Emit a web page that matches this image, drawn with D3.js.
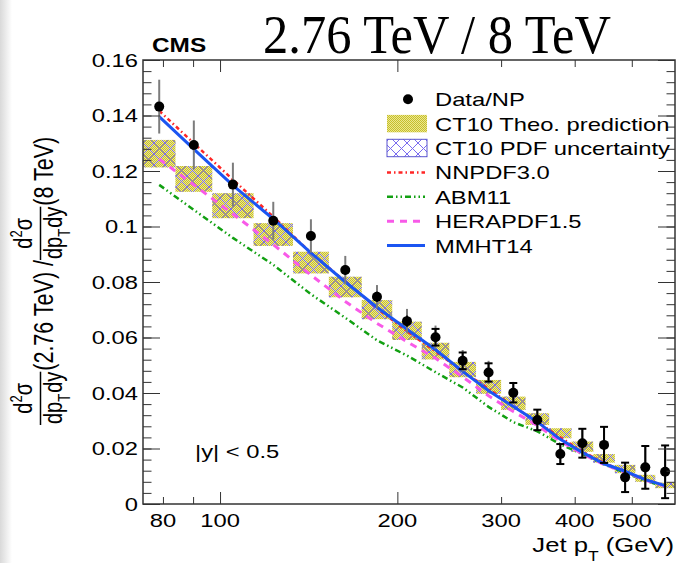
<!DOCTYPE html>
<html>
<head>
<meta charset="utf-8">
<script src="https://cdn.jsdelivr.net/npm/d3@7"></script>
<style>
body { margin: 0; background: #fff; }
svg { display: block; }
</style>
</head>
<body>
<svg id="chart" width="677" height="563"></svg>
<script>
// jet pT bins (GeV)
var binEdges = [74, 84, 97, 114, 133, 153, 174, 196, 220, 245, 272, 300, 330, 362, 395, 430, 468, 507, 548, 592];

// data / NP ratio, total and stat errors
var dataVal = [0.1432, 0.1294, 0.1151, 0.1021, 0.0966, 0.0843, 0.0747, 0.0659, 0.0601, 0.0516, 0.0474, 0.0401, 0.0303, 0.0180, 0.0219, 0.0213, 0.0096, 0.0132, 0.0116];
var errTot = [0.0097, 0.0088, 0.0079, 0.0068, 0.0060, 0.0051, 0.0042, 0.0044, 0.0042, 0.0039, 0.0042, 0.0039, 0.0039, 0.0037, 0.0054, 0.0067, 0.0054, 0.0079, 0.0097];
var errStat = [0.0008, 0.0009, 0.0010, 0.0012, 0.0014, 0.0016, 0.0018, 0.0020, 0.0030, 0.0030, 0.0033, 0.0035, 0.0037, 0.0036, 0.0052, 0.0065, 0.0053, 0.0077, 0.0095];

// CT10 band
var ct10Hi = [0.1312, 0.1218, 0.1120, 0.1012, 0.0909, 0.0819, 0.0735, 0.0657, 0.0581, 0.0512, 0.0447, 0.0387, 0.0327, 0.0273, 0.0225, 0.0180, 0.0141, 0.0105, 0.0077];
var ct10Lo = [0.1213, 0.1125, 0.1030, 0.0930, 0.0831, 0.0745, 0.0666, 0.0591, 0.0521, 0.0457, 0.0397, 0.0339, 0.0285, 0.0237, 0.0188, 0.0149, 0.0111, 0.0080, 0.0057];

// other PDF sets
var nnpdf = [0.1417, 0.1300, 0.1169, 0.1035, 0.0905, 0.0802, 0.0706, 0.0622, 0.0550, 0.0478, 0.0415, 0.0352, 0.0295, 0.0240, 0.0190, 0.0148, 0.0116, 0.0088, 0.0066];
var abm11 = [0.1150, 0.1060, 0.0959, 0.0862, 0.0756, 0.0671, 0.0590, 0.0535, 0.0475, 0.0420, 0.0350, 0.0295, 0.0262, 0.0215, 0.0180, 0.0143, 0.0112, 0.0084, 0.0062];
var hera = [0.1243, 0.1150, 0.1045, 0.0935, 0.0825, 0.0730, 0.0651, 0.0585, 0.0525, 0.0458, 0.0390, 0.0333, 0.0283, 0.0226, 0.0181, 0.0142, 0.0115, 0.0086, 0.0064];
var mmht = [0.1396, 0.1279, 0.1148, 0.1027, 0.0905, 0.0800, 0.0709, 0.0630, 0.0556, 0.0478, 0.0408, 0.0351, 0.0296, 0.0233, 0.0186, 0.0145, 0.0118, 0.0088, 0.0066];

// ticks
var yTicks = [0, 0.02, 0.04, 0.06, 0.08, 0.1, 0.12, 0.14, 0.16];
var yTickLabels = ["0", "0.02", "0.04", "0.06", "0.08", "0.1", "0.12", "0.14", "0.16"];
var xTickLabels = [80, 100, 200, 300, 400, 500];
var xTicksLong = [100, 200];
var xTicksShort = [80, 90, 300, 400, 500];

var legendItems = ["Data/NP", "CT10 Theo. prediction", "CT10 PDF uncertainty", "NNPDF3.0", "ABM11", "HERAPDF1.5", "MMHT14"];

var FONT = "'Liberation Sans', Arial, Helvetica, sans-serif";
var SX = 1.25; // canvas was stretched sideways

var svg = d3.select("#chart");
var L = 143, R = 675, T = 60, B = 504;

var x = d3.scaleLog().domain([binEdges[0], binEdges[binEdges.length - 1]]).range([L, R]);
var y = d3.scaleLinear().domain([0, 0.16]).range([B, T]);

var bins = dataVal.map(function (v, i) {
	var lo = binEdges[i], hi = binEdges[i + 1];
	return { lo: lo, hi: hi, c: Math.sqrt(lo * hi), v: v, et: errTot[i], es: errStat[i], blo: ct10Lo[i], bhi: ct10Hi[i] };
});

// ---------- defs ----------
var defs = svg.append("defs");

var edge = defs.append("linearGradient").attr("id", "edge").attr("x1", 0).attr("x2", 1).attr("y1", 0).attr("y2", 0);
edge.append("stop").attr("offset", "0%").attr("stop-color", "#d9d9d9");
edge.append("stop").attr("offset", "100%").attr("stop-color", "#ffffff");

var dots = defs.append("pattern").attr("id", "dots").attr("patternUnits", "userSpaceOnUse")
	.attr("width", 2).attr("height", 2);
dots.append("rect").attr("width", 2).attr("height", 2).attr("fill", "#ece88e");
dots.append("rect").attr("width", 1).attr("height", 1).attr("fill", "#c6be2e");
dots.append("rect").attr("x", 1).attr("y", 1).attr("width", 1).attr("height", 1).attr("fill", "#c6be2e");

var hatch = defs.append("pattern").attr("id", "hatch").attr("patternUnits", "userSpaceOnUse")
	.attr("width", 11).attr("height", 11);
hatch.append("path").attr("d", "M0,0L11,11M11,0L0,11")
	.attr("stroke", "#7a6cf0").attr("stroke-width", 1).attr("fill", "none");

defs.append("clipPath").attr("id", "frame")
	.append("rect").attr("x", L).attr("y", T).attr("width", R - L).attr("height", B - T);

// ---------- background ----------
svg.append("rect").attr("width", 677).attr("height", 563).attr("fill", "#fff");
svg.append("rect").attr("width", 12).attr("height", 563).attr("fill", "url(#edge)");

// helper for the sideways-stretched ROOT text
function stext(parent, px, py, str, size, anchor, weight) {
	return parent.append("g")
		.attr("transform", "translate(" + px + "," + py + ") scale(" + SX + ",1)")
		.append("text")
		.attr("text-anchor", anchor || "start")
		.style("font-family", FONT)
		.style("font-size", size + "px")
		.style("font-weight", weight || "normal")
		.attr("fill", "#000")
		.text(str);
}

var plot = svg.append("g").attr("clip-path", "url(#frame)");

// CT10 theory band and PDF uncertainty
plot.selectAll("rect.theo").data(bins).enter().append("rect")
	.attr("class", "theo")
	.attr("x", function (d) { return x(d.lo); })
	.attr("width", function (d) { return x(d.hi) - x(d.lo); })
	.attr("y", function (d) { return y(d.bhi); })
	.attr("height", function (d) { return y(d.blo) - y(d.bhi); })
	.attr("fill", "url(#dots)");

plot.selectAll("rect.pdf").data(bins).enter().append("rect")
	.attr("class", "pdf")
	.attr("x", function (d) { return x(d.lo); })
	.attr("width", function (d) { return x(d.hi) - x(d.lo); })
	.attr("y", function (d) { return y(d.bhi); })
	.attr("height", function (d) { return y(d.blo) - y(d.bhi); })
	.attr("fill", "url(#hatch)");

// theory curves
var line = d3.line()
	.x(function (d) { return x(d.c); })
	.y(function (d) { return y(d.v); });

var curves = [
	{ vals: nnpdf, color: "#ff2626", dash: "4,3,1.5,3", w: 2.5 },
	{ vals: abm11, color: "#12a012", dash: "6,3,1.5,3,1.5,3", w: 2.5 },
	{ vals: hera, color: "#f85ae8", dash: "7,6", w: 3 },
	{ vals: mmht, color: "#1b55f2", dash: null, w: 3 }
];

curves.forEach(function (cv) {
	plot.append("path")
		.datum(bins.map(function (b, i) { return { c: b.c, v: cv.vals[i] }; }))
		.attr("d", line)
		.attr("fill", "none")
		.attr("stroke", cv.color)
		.attr("stroke-width", cv.w)
		.attr("stroke-dasharray", cv.dash);
});

// data points
var pts = plot.selectAll("g.pt").data(bins).enter().append("g").attr("class", "pt");

pts.append("line")
	.attr("x1", function (d) { return x(d.c); })
	.attr("x2", function (d) { return x(d.c); })
	.attr("y1", function (d) { return y(d.v + d.et); })
	.attr("y2", function (d) { return y(d.v - d.et); })
	.attr("stroke", "#7c7c7c").attr("stroke-width", 2);

pts.append("line")
	.attr("x1", function (d) { return x(d.c); })
	.attr("x2", function (d) { return x(d.c); })
	.attr("y1", function (d) { return y(d.v + d.es); })
	.attr("y2", function (d) { return y(d.v - d.es); })
	.attr("stroke", "#000").attr("stroke-width", 2);

// caps only where the stat bar sticks out of the marker
pts.filter(function (d) { return y(d.v) - y(d.v + d.es) > 6; })
	.each(function (d) {
		var g = d3.select(this), cx = x(d.c);
		[d.v + d.es, d.v - d.es].forEach(function (e) {
			g.append("line")
				.attr("x1", cx - 4).attr("x2", cx + 4)
				.attr("y1", y(e)).attr("y2", y(e))
				.attr("stroke", "#000").attr("stroke-width", 2);
		});
	});

pts.append("circle")
	.attr("cx", function (d) { return x(d.c); })
	.attr("cy", function (d) { return y(d.v); })
	.attr("r", 5)
	.attr("fill", "#000");

// ---------- axes ----------
var yMinor = d3.range(0, 0.1601, 0.004);
function noDomain(g) { g.select(".domain").remove(); g.selectAll("line").attr("stroke", "#333"); }

svg.append("g").attr("transform", "translate(" + L + ",0)")
	.call(d3.axisLeft(y).tickValues(yMinor).tickSize(-8.5).tickFormat("")).call(noDomain);
svg.append("g").attr("transform", "translate(" + L + ",0)")
	.call(d3.axisLeft(y).tickValues(yTicks).tickSize(-17).tickFormat("")).call(noDomain);
svg.append("g").attr("transform", "translate(" + R + ",0)")
	.call(d3.axisRight(y).tickValues(yMinor).tickSize(-8.5).tickFormat("")).call(noDomain);
svg.append("g").attr("transform", "translate(" + R + ",0)")
	.call(d3.axisRight(y).tickValues(yTicks).tickSize(-17).tickFormat("")).call(noDomain);

svg.append("g").attr("transform", "translate(0," + B + ")")
	.call(d3.axisBottom(x).tickValues(xTicksLong).tickSize(-12).tickFormat("")).call(noDomain);
svg.append("g").attr("transform", "translate(0," + B + ")")
	.call(d3.axisBottom(x).tickValues(xTicksShort).tickSize(-7).tickFormat("")).call(noDomain);
svg.append("g").attr("transform", "translate(0," + T + ")")
	.call(d3.axisTop(x).tickValues(xTicksLong).tickSize(-12).tickFormat("")).call(noDomain);
svg.append("g").attr("transform", "translate(0," + T + ")")
	.call(d3.axisTop(x).tickValues(xTicksShort).tickSize(-7).tickFormat("")).call(noDomain);

svg.append("rect")
	.attr("x", L).attr("y", T).attr("width", R - L).attr("height", B - T)
	.attr("fill", "none").attr("stroke", "#333").attr("stroke-width", 1.5);

yTicks.forEach(function (v, i) {
	stext(svg, 138, y(v) + 6.7, yTickLabels[i], 19, "end");
});
xTickLabels.forEach(function (v) {
	stext(svg, x(v), 526.5, String(v), 19, "middle");
});

// x title
var xt = stext(svg, 674, 552, "Jet p", 20.5, "end");
xt.append("tspan").attr("dy", 9).style("font-size", "14px").text("T");
xt.append("tspan").attr("dy", -9).text(" (GeV)");

// y title, built from pieces along the rotated baseline
var yl = svg.append("g").attr("transform", "translate(53,425) scale(" + SX + ",1) rotate(-90)")
	.style("font-family", FONT).attr("fill", "#000");
var cur = 0;

function addFrac() {
	var num = yl.append("text").attr("y", -16.5).style("font-size", "20px");
	num.append("tspan").text("d");
	num.append("tspan").attr("dy", -8).style("font-size", "13px").text("2");
	num.append("tspan").attr("dy", 8).text("σ");
	var den = yl.append("text").attr("y", 7.5).style("font-size", "20px");
	den.append("tspan").text("dp");
	den.append("tspan").attr("dy", 6).style("font-size", "13px").text("T");
	den.append("tspan").attr("dy", -6).attr("dx", 1).text("dy");
	var nw = num.node().getComputedTextLength();
	var dw = den.node().getComputedTextLength();
	var fw = Math.max(nw, dw) + 2;
	num.attr("x", cur + (fw - nw) / 2);
	den.attr("x", cur + (fw - dw) / 2);
	yl.append("line").attr("x1", cur).attr("x2", cur + fw).attr("y1", -10).attr("y2", -10)
		.attr("stroke", "#000").attr("stroke-width", 1.2);
	cur += fw + 1;
}
function addText(str) {
	var t = yl.append("text").attr("x", cur).attr("y", 0).style("font-size", "21.5px").text(str);
	cur += t.node().getComputedTextLength();
}
addFrac();
addText("(2.76 TeV) / ");
addFrac();
addText("(8 TeV)");

// labels on the pad
stext(svg, 152, 52, "CMS", 19.5, "start", "bold");
stext(svg, 195, 458, "|y| < 0.5", 19, "start");

svg.append("text")
	.attr("x", 263).attr("y", 53)
	.attr("textLength", 348).attr("lengthAdjust", "spacingAndGlyphs")
	.style("font-family", "'Liberation Serif', 'Times New Roman', serif")
	.style("font-size", "54px")
	.attr("fill", "#000")
	.text("2.76 TeV / 8 TeV");

// ---------- legend ----------
var lg = svg.append("g");
var ly0 = 99.2, ldy = 24.4, lx0 = 387, lx1 = 427;

legendItems.forEach(function (name, i) {
	var cy = ly0 + i * ldy;
	if (i === 0) {
		lg.append("circle").attr("cx", (lx0 + lx1) / 2 + 1).attr("cy", cy).attr("r", 5).attr("fill", "#000");
	} else if (i === 1) {
		lg.append("rect").attr("x", lx0).attr("y", cy - 8.7).attr("width", lx1 - lx0).attr("height", 17.4)
			.attr("fill", "url(#dots)");
	} else if (i === 2) {
		lg.append("rect").attr("x", lx0).attr("y", cy - 8.7).attr("width", lx1 - lx0).attr("height", 17.4)
			.attr("fill", "url(#hatch)").attr("stroke", "#5b55d0").attr("stroke-width", 1);
	} else {
		var cv = curves[i - 3];
		lg.append("line").attr("x1", lx0).attr("x2", lx1 - 2).attr("y1", cy).attr("y2", cy)
			.attr("stroke", cv.color).attr("stroke-width", cv.w).attr("stroke-dasharray", cv.dash);
	}
	stext(lg, 435, cy + 7, name, 19, "start");
});
</script>
</body>
</html>
